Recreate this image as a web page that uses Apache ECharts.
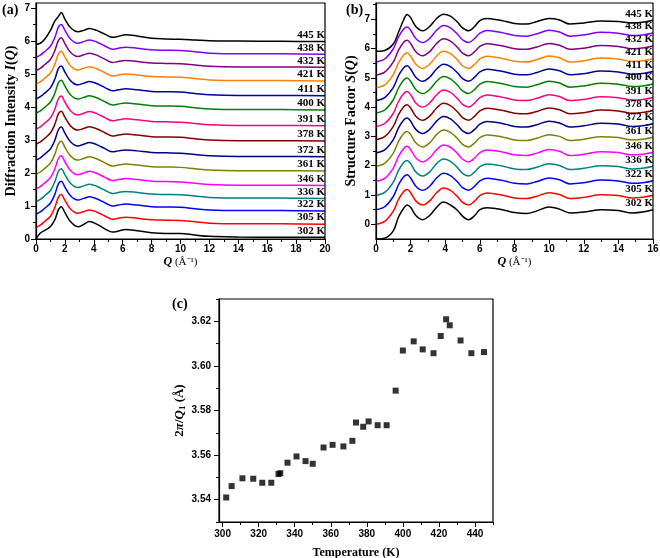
<!DOCTYPE html>
<html>
<head>
<meta charset="utf-8">
<script src="https://cdn.jsdelivr.net/npm/echarts@6/dist/echarts.min.js"></script>
<style>
  html, body { margin: 0; padding: 0; background: #fff; }
  #chart { width: 660px; height: 558px; }
</style>
</head>
<body>
<div id="chart"></div>
<script>
// (a) diffraction intensity I(Q)
const qA = [0, 0.3, 0.6, 1.0, 1.3, 1.55, 1.75, 2.0, 2.4, 2.9, 3.3, 3.7, 4.2, 4.8, 5.3, 5.7, 6.2, 7.0, 8.0, 9.0, 10, 11, 12, 14, 17, 20];
const iq302 = [0.00, 0.18, 0.26, 0.38, 0.58, 0.88, 0.98, 0.80, 0.52, 0.37, 0.44, 0.53, 0.45, 0.30, 0.21, 0.24, 0.29, 0.25, 0.19, 0.17, 0.17, 0.12, 0.08, 0.06, 0.05, 0.05];
const iq305 = [0.35, 0.42, 0.53, 0.69, 0.95, 1.27, 1.35, 1.17, 0.90, 0.78, 0.83, 0.88, 0.82, 0.69, 0.60, 0.63, 0.66, 0.63, 0.58, 0.57, 0.56, 0.52, 0.48, 0.46, 0.46, 0.45];
const iq322 = [0.75, 0.82, 0.93, 1.09, 1.35, 1.67, 1.75, 1.57, 1.30, 1.18, 1.23, 1.28, 1.22, 1.09, 1.00, 1.03, 1.06, 1.03, 0.98, 0.97, 0.96, 0.92, 0.88, 0.86, 0.86, 0.85];
const iq336 = [1.13, 1.20, 1.31, 1.47, 1.73, 2.05, 2.13, 1.95, 1.68, 1.56, 1.61, 1.66, 1.60, 1.47, 1.38, 1.41, 1.44, 1.41, 1.36, 1.35, 1.34, 1.30, 1.26, 1.24, 1.24, 1.23];
const iq346 = [1.52, 1.59, 1.70, 1.86, 2.12, 2.44, 2.52, 2.34, 2.07, 1.95, 2.00, 2.05, 1.99, 1.86, 1.77, 1.80, 1.83, 1.80, 1.75, 1.74, 1.73, 1.69, 1.65, 1.63, 1.63, 1.62];
const iq361 = [1.96, 2.03, 2.14, 2.30, 2.56, 2.88, 2.96, 2.78, 2.51, 2.39, 2.44, 2.49, 2.43, 2.30, 2.21, 2.24, 2.27, 2.24, 2.19, 2.18, 2.17, 2.13, 2.09, 2.07, 2.07, 2.06];
const iq372 = [2.39, 2.46, 2.57, 2.73, 2.99, 3.31, 3.39, 3.21, 2.94, 2.82, 2.87, 2.92, 2.86, 2.73, 2.64, 2.67, 2.70, 2.67, 2.62, 2.61, 2.60, 2.56, 2.52, 2.50, 2.50, 2.49];
const iq378 = [2.87, 2.94, 3.05, 3.21, 3.47, 3.79, 3.87, 3.69, 3.42, 3.30, 3.35, 3.40, 3.34, 3.21, 3.12, 3.15, 3.18, 3.15, 3.10, 3.09, 3.08, 3.04, 3.00, 2.98, 2.98, 2.97];
const iq391 = [3.33, 3.40, 3.51, 3.67, 3.93, 4.25, 4.33, 4.15, 3.88, 3.76, 3.81, 3.86, 3.80, 3.67, 3.58, 3.61, 3.64, 3.61, 3.56, 3.55, 3.54, 3.50, 3.46, 3.44, 3.44, 3.43];
const iq400 = [3.81, 3.88, 3.99, 4.15, 4.41, 4.73, 4.81, 4.63, 4.36, 4.24, 4.29, 4.34, 4.28, 4.15, 4.06, 4.09, 4.12, 4.09, 4.04, 4.03, 4.02, 3.98, 3.94, 3.92, 3.92, 3.91];
const iq411 = [4.24, 4.31, 4.42, 4.58, 4.84, 5.16, 5.24, 5.06, 4.79, 4.67, 4.72, 4.77, 4.71, 4.58, 4.49, 4.52, 4.55, 4.52, 4.47, 4.46, 4.45, 4.41, 4.37, 4.35, 4.35, 4.34];
const iq421 = [4.69, 4.76, 4.87, 5.03, 5.29, 5.61, 5.69, 5.51, 5.24, 5.12, 5.17, 5.22, 5.16, 5.03, 4.94, 4.97, 5.00, 4.97, 4.92, 4.91, 4.90, 4.86, 4.82, 4.80, 4.80, 4.79];
const iq432 = [5.10, 5.17, 5.28, 5.44, 5.70, 6.02, 6.10, 5.92, 5.65, 5.53, 5.58, 5.63, 5.57, 5.44, 5.35, 5.38, 5.41, 5.38, 5.33, 5.32, 5.31, 5.27, 5.23, 5.21, 5.21, 5.20];
const iq438 = [5.50, 5.57, 5.68, 5.84, 6.10, 6.42, 6.50, 6.32, 6.05, 5.93, 5.98, 6.03, 5.97, 5.84, 5.75, 5.78, 5.81, 5.78, 5.73, 5.72, 5.71, 5.67, 5.63, 5.61, 5.61, 5.60];
const iq445 = [5.90, 5.93, 6.05, 6.32, 6.60, 6.74, 6.86, 6.66, 6.40, 6.28, 6.32, 6.38, 6.32, 6.20, 6.11, 6.14, 6.19, 6.15, 6.08, 6.06, 6.05, 6.03, 6.01, 6.00, 5.99, 5.98];

// (b) structure factor S(Q)
const qB = [0, 0.5, 1.0, 1.3, 1.6, 1.8, 2.0, 2.3, 2.7, 3.1, 3.5, 3.9, 4.3, 4.7, 5.0, 5.35, 5.7, 6.0, 6.4, 7.0, 7.5, 8.0, 8.7, 9.3, 10.0, 10.6, 11.2, 12.0, 13.0, 14.0, 14.8, 15.5, 16.0];
const sq302 = [-0.50, -0.47, -0.22, 0.25, 0.55, 0.66, 0.58, 0.30, 0.16, 0.30, 0.58, 0.76, 0.66, 0.48, 0.28, 0.16, 0.30, 0.50, 0.57, 0.53, 0.47, 0.40, 0.37, 0.46, 0.59, 0.52, 0.39, 0.42, 0.50, 0.47, 0.39, 0.43, 0.50];
const sq305 = [0.00, 0.10, 0.45, 0.85, 1.12, 1.19, 1.08, 0.80, 0.66, 0.80, 1.08, 1.24, 1.16, 0.95, 0.75, 0.66, 0.80, 0.98, 1.07, 1.03, 0.97, 0.90, 0.88, 0.96, 1.08, 1.02, 0.88, 0.92, 1.01, 0.98, 0.90, 0.93, 0.99];
const sq322 = [0.50, 0.60, 0.95, 1.35, 1.62, 1.69, 1.58, 1.30, 1.16, 1.30, 1.58, 1.74, 1.66, 1.45, 1.25, 1.16, 1.30, 1.48, 1.57, 1.53, 1.47, 1.40, 1.38, 1.46, 1.58, 1.52, 1.38, 1.42, 1.51, 1.48, 1.40, 1.43, 1.49];
const sq336 = [0.99, 1.09, 1.44, 1.84, 2.11, 2.18, 2.07, 1.79, 1.65, 1.79, 2.07, 2.23, 2.15, 1.94, 1.74, 1.65, 1.79, 1.97, 2.06, 2.02, 1.96, 1.89, 1.87, 1.95, 2.07, 2.01, 1.87, 1.91, 2.00, 1.97, 1.89, 1.92, 1.98];
const sq346 = [1.47, 1.57, 1.92, 2.32, 2.59, 2.66, 2.55, 2.27, 2.13, 2.27, 2.55, 2.71, 2.63, 2.42, 2.22, 2.13, 2.27, 2.45, 2.54, 2.50, 2.44, 2.37, 2.35, 2.43, 2.55, 2.49, 2.35, 2.39, 2.48, 2.45, 2.37, 2.40, 2.46];
const sq361 = [1.98, 2.08, 2.43, 2.83, 3.10, 3.17, 3.06, 2.78, 2.64, 2.78, 3.06, 3.22, 3.14, 2.93, 2.73, 2.64, 2.78, 2.96, 3.05, 3.01, 2.95, 2.88, 2.86, 2.94, 3.06, 3.00, 2.86, 2.90, 2.99, 2.96, 2.88, 2.91, 2.97];
const sq372 = [2.44, 2.54, 2.89, 3.29, 3.56, 3.63, 3.52, 3.24, 3.10, 3.24, 3.52, 3.68, 3.60, 3.39, 3.19, 3.10, 3.24, 3.42, 3.51, 3.47, 3.41, 3.34, 3.32, 3.40, 3.52, 3.46, 3.32, 3.36, 3.45, 3.42, 3.34, 3.37, 3.43];
const sq378 = [2.89, 2.99, 3.34, 3.74, 4.01, 4.08, 3.97, 3.69, 3.55, 3.69, 3.97, 4.13, 4.05, 3.84, 3.64, 3.55, 3.69, 3.87, 3.96, 3.92, 3.86, 3.79, 3.77, 3.85, 3.97, 3.91, 3.77, 3.81, 3.90, 3.87, 3.79, 3.82, 3.88];
const sq391 = [3.34, 3.44, 3.79, 4.19, 4.46, 4.53, 4.42, 4.14, 4.00, 4.14, 4.42, 4.58, 4.50, 4.29, 4.09, 4.00, 4.14, 4.32, 4.41, 4.37, 4.31, 4.24, 4.22, 4.30, 4.42, 4.36, 4.22, 4.26, 4.35, 4.32, 4.24, 4.27, 4.33];
const sq400 = [3.80, 3.90, 4.25, 4.65, 4.92, 4.99, 4.88, 4.60, 4.46, 4.60, 4.88, 5.04, 4.96, 4.75, 4.55, 4.46, 4.60, 4.78, 4.87, 4.83, 4.77, 4.70, 4.68, 4.76, 4.88, 4.82, 4.68, 4.72, 4.81, 4.78, 4.70, 4.73, 4.79];
const sq411 = [4.22, 4.32, 4.67, 5.07, 5.34, 5.41, 5.30, 5.02, 4.88, 5.02, 5.30, 5.46, 5.38, 5.17, 4.97, 4.88, 5.02, 5.20, 5.29, 5.25, 5.19, 5.12, 5.10, 5.18, 5.30, 5.24, 5.10, 5.14, 5.23, 5.20, 5.12, 5.15, 5.21];
const sq421 = [4.66, 4.76, 5.11, 5.51, 5.78, 5.85, 5.74, 5.46, 5.32, 5.46, 5.74, 5.90, 5.82, 5.61, 5.41, 5.32, 5.46, 5.64, 5.73, 5.69, 5.63, 5.56, 5.54, 5.62, 5.74, 5.68, 5.54, 5.58, 5.67, 5.64, 5.56, 5.59, 5.65];
const sq432 = [5.09, 5.19, 5.54, 5.94, 6.21, 6.28, 6.17, 5.89, 5.75, 5.89, 6.17, 6.33, 6.25, 6.04, 5.84, 5.75, 5.89, 6.07, 6.16, 6.12, 6.06, 5.99, 5.97, 6.05, 6.17, 6.11, 5.97, 6.01, 6.10, 6.07, 5.99, 6.02, 6.08];
const sq438 = [5.54, 5.64, 5.99, 6.39, 6.66, 6.73, 6.62, 6.34, 6.20, 6.34, 6.62, 6.78, 6.70, 6.49, 6.29, 6.20, 6.34, 6.52, 6.61, 6.57, 6.51, 6.44, 6.42, 6.50, 6.62, 6.56, 6.42, 6.46, 6.55, 6.52, 6.44, 6.47, 6.53];
const sq445 = [5.90, 5.93, 6.15, 6.55, 6.98, 7.16, 7.05, 6.75, 6.60, 6.75, 7.02, 7.17, 7.10, 6.90, 6.70, 6.60, 6.75, 6.95, 7.02, 6.98, 6.92, 6.85, 6.83, 6.92, 7.02, 6.97, 6.83, 6.87, 6.94, 6.92, 6.87, 6.90, 6.96];

const curveNames = ['302 K', '305 K', '322 K', '336 K', '346 K', '361 K', '372 K', '378 K', '391 K', '400 K', '411 K', '421 K', '432 K', '438 K', '445 K'];
const curveColors = ['#000000', '#ff0000', '#0000ff', '#008080', '#ff00ff', '#808000', '#000080', '#800000', '#ff0080', '#008000', '#0000a0', '#ff8000', '#800080', '#8000ff', '#000000'];
const iqCurves = [iq302, iq305, iq322, iq336, iq346, iq361, iq372, iq378, iq391, iq400, iq411, iq421, iq432, iq438, iq445];
const sqCurves = [sq302, sq305, sq322, sq336, sq346, sq361, sq372, sq378, sq391, sq400, sq411, sq421, sq432, sq438, sq445];

// (c) 2π/Q1 vs temperature
const tempC = [302, 305, 311, 317, 322, 327, 331, 332, 336, 341, 346, 350, 356, 361, 367, 372, 374, 378, 381, 386, 391, 396, 400, 406, 411, 417, 421, 424, 426, 432, 438, 445];
const distC = [3.5410, 3.5461, 3.5496, 3.5494, 3.5476, 3.5476, 3.5515, 3.5519, 3.5566, 3.5594, 3.5573, 3.5561, 3.5634, 3.5646, 3.5639, 3.5664, 3.5746, 3.5727, 3.5751, 3.5734, 3.5734, 3.5889, 3.6069, 3.6110, 3.6074, 3.6057, 3.6134, 3.6209, 3.6182, 3.6114, 3.6057, 3.6062];

// tick values
const aXTicks = [0, 2, 4, 6, 8, 10, 12, 14, 16, 18, 20];
const aXMinor = [1, 3, 5, 7, 9, 11, 13, 15, 17, 19];
const aYTicks = [0, 1, 2, 3, 4, 5, 6, 7];
const aYMinor = [0.5, 1.5, 2.5, 3.5, 4.5, 5.5, 6.5];
const bXTicks = [0, 2, 4, 6, 8, 10, 12, 14, 16];
const bXMinor = [1, 3, 5, 7, 9, 11, 13, 15];
const bYTicks = [0, 1, 2, 3, 4, 5, 6, 7];
const bYMinor = [0.5, 1.5, 2.5, 3.5, 4.5, 5.5, 6.5, 7.5];
const cXTicks = [300, 320, 340, 360, 380, 400, 420, 440];
const cXMinor = [310, 330, 350, 370, 390, 410, 430, 450];
const cYTicks = [3.54, 3.56, 3.58, 3.60, 3.62];
const cYMinor = [3.53, 3.55, 3.57, 3.59, 3.61, 3.63];

const SANS = '"Liberation Sans", Arial, sans-serif';
const SERIF = '"Liberation Serif", "Times New Roman", serif';

function mainAxis(grid, pos, min, max, ticks, label) {
  return {
    type: 'value', gridIndex: grid, position: pos, min: min, max: max,
    axisLine: { show: true, onZero: false, lineStyle: { color: '#000', width: 1.2 } },
    axisTick: { show: true, length: 5, customValues: ticks, lineStyle: { color: '#000', width: 1 } },
    axisLabel: Object.assign({ customValues: ticks, fontFamily: SANS, fontWeight: 'bold', fontSize: 10, color: '#000' }, label),
    splitLine: { show: false }
  };
}

// extra axis on the same grid: only the small ticks between labels
function minorAxis(grid, pos, min, max, ticks) {
  return {
    type: 'value', gridIndex: grid, position: pos, min: min, max: max,
    axisLine: { show: false, onZero: false },
    axisTick: { show: true, length: 3, customValues: ticks, lineStyle: { color: '#000', width: 1 } },
    axisLabel: { show: false },
    splitLine: { show: false }
  };
}

function curveSeries(qs, curves, xIdx, yIdx) {
  return curves.map(function (ys, i) {
    const data = qs.map(function (q, k) { return [q, ys[k]]; });
    const last = data.length - 1;
    data[last] = {
      value: data[last],
      label: {
        show: true, position: 'top', distance: 1, align: 'right',
        formatter: curveNames[i],
        fontFamily: SERIF, fontWeight: 'bold', fontSize: 11, color: '#000'
      }
    };
    return {
      type: 'line', name: curveNames[i], xAxisIndex: xIdx, yAxisIndex: yIdx,
      data: data, smooth: 0.35, showSymbol: true, showAllSymbol: true, symbolSize: 0,
      lineStyle: { color: curveColors[i], width: 1.5 }, itemStyle: { color: curveColors[i] },
      silent: true
    };
  });
}

const chart = echarts.init(document.getElementById('chart'));

const richT = {
  b: { fontFamily: SERIF, fontWeight: 'bold', fontSize: 14, color: '#000' },
  i: { fontFamily: SERIF, fontWeight: 'bold', fontStyle: 'italic', fontSize: 14, color: '#000' }
};
const richQ = {
  i: { fontFamily: SERIF, fontWeight: 'bold', fontStyle: 'italic', fontSize: 12, color: '#000' },
  n: { fontFamily: SERIF, fontSize: 11, color: '#000' }
};

const xa = mainAxis(0, 'bottom', 0, 20, aXTicks, { margin: 5 });
xa.name = '{i|Q}{n| (Å⁻¹)}';
xa.nameLocation = 'middle';
xa.nameGap = 17;
xa.nameTextStyle = { rich: richQ };

const xb = mainAxis(1, 'bottom', 0, 16, bXTicks, { margin: 5 });
xb.name = '{i|Q}{n| (Å⁻¹)}';
xb.nameLocation = 'middle';
xb.nameGap = 17;
xb.nameTextStyle = { rich: richQ };

const xc = mainAxis(2, 'bottom', 298, 450, cXTicks, { margin: 7 });
xc.name = 'Temperature (K)';
xc.nameLocation = 'middle';
xc.nameGap = 25;
xc.nameTextStyle = { fontFamily: SERIF, fontWeight: 'bold', fontSize: 12, color: '#000' };

const ya = mainAxis(0, 'left', 0, 7.15, aYTicks, { margin: 6 });
ya.name = '{b|Diffraction Intensity }{i|I}{b|(}{i|Q}{b|)}';
ya.nameLocation = 'middle';
ya.nameGap = 18;
ya.nameTextStyle = { rich: richT };

const yb = mainAxis(1, 'left', -0.5, 7.55, bYTicks, { margin: 6 });
yb.name = '{b|Structure Factor }{i|S}{b|(}{i|Q}{b|)}';
yb.nameLocation = 'middle';
yb.nameGap = 18;
yb.nameTextStyle = { rich: richT };

const yc = mainAxis(2, 'left', 3.53, 3.63, cYTicks, { margin: 8, formatter: function (v) { return v.toFixed(2); } });
yc.name = '{b|2}{i|π}{b|/}{i|Q}{s|1}{b| (Å)}';
yc.nameLocation = 'middle';
yc.nameGap = 32;
yc.nameTextStyle = {
  rich: {
    b: { fontFamily: SERIF, fontWeight: 'bold', fontSize: 13, color: '#000' },
    i: { fontFamily: SERIF, fontWeight: 'bold', fontStyle: 'italic', fontSize: 13, color: '#000' },
    s: { fontFamily: SERIF, fontWeight: 'bold', fontSize: 9, color: '#000', padding: [6, 0, 0, 0] }
  }
};

const panelTexts = [
  { type: 'text', left: 2, top: 3, style: { text: '(a)', font: 'bold 14px ' + SERIF, fill: '#000' } },
  { type: 'text', left: 346, top: 3, style: { text: '(b)', font: 'bold 14px ' + SERIF, fill: '#000' } },
  { type: 'text', left: 172, top: 297, style: { text: '(c)', font: 'bold 14px ' + SERIF, fill: '#000' } }
];

const option = {
  backgroundColor: '#fff',
  animation: false,
  grid: [
    { left: 36, top: 3, width: 289, height: 236, outerBoundsMode: 'none' },
    { left: 376, top: 3, width: 277, height: 236, outerBoundsMode: 'none' },
    { left: 219, top: 299, width: 274, height: 223, outerBoundsMode: 'none' }
  ],
  xAxis: [
    xa, xb, xc,
    minorAxis(0, 'bottom', 0, 20, aXMinor),
    minorAxis(1, 'bottom', 0, 16, bXMinor),
    minorAxis(2, 'bottom', 298, 450, cXMinor)
  ],
  yAxis: [
    ya, yb, yc,
    minorAxis(0, 'left', 0, 7.15, aYMinor),
    minorAxis(1, 'left', -0.5, 7.55, bYMinor),
    minorAxis(2, 'left', 3.53, 3.63, cYMinor)
  ],
  graphic: panelTexts,
  series: curveSeries(qA, iqCurves, 0, 0)
    .concat(curveSeries(qB, sqCurves, 1, 1))
    .concat([{
      type: 'scatter', xAxisIndex: 2, yAxisIndex: 2,
      data: tempC.map(function (t, i) { return [t, distC[i]]; }),
      symbol: 'rect', symbolSize: 6, itemStyle: { color: '#000' }, silent: true
    }])
};

chart.setOption(option);

// box round each panel, taken from the laid-out grids
const boxes = [0, 1, 2].map(function (i) {
  const r = chart.getModel().getComponent('grid', i).coordinateSystem.getRect();
  return {
    type: 'rect', silent: true, z: 50,
    shape: { x: r.x, y: r.y, width: r.width, height: r.height },
    style: { fill: 'none', stroke: '#000', lineWidth: 1.2 }
  };
});
chart.setOption({ graphic: panelTexts.concat(boxes) });
</script>
</body>
</html>
